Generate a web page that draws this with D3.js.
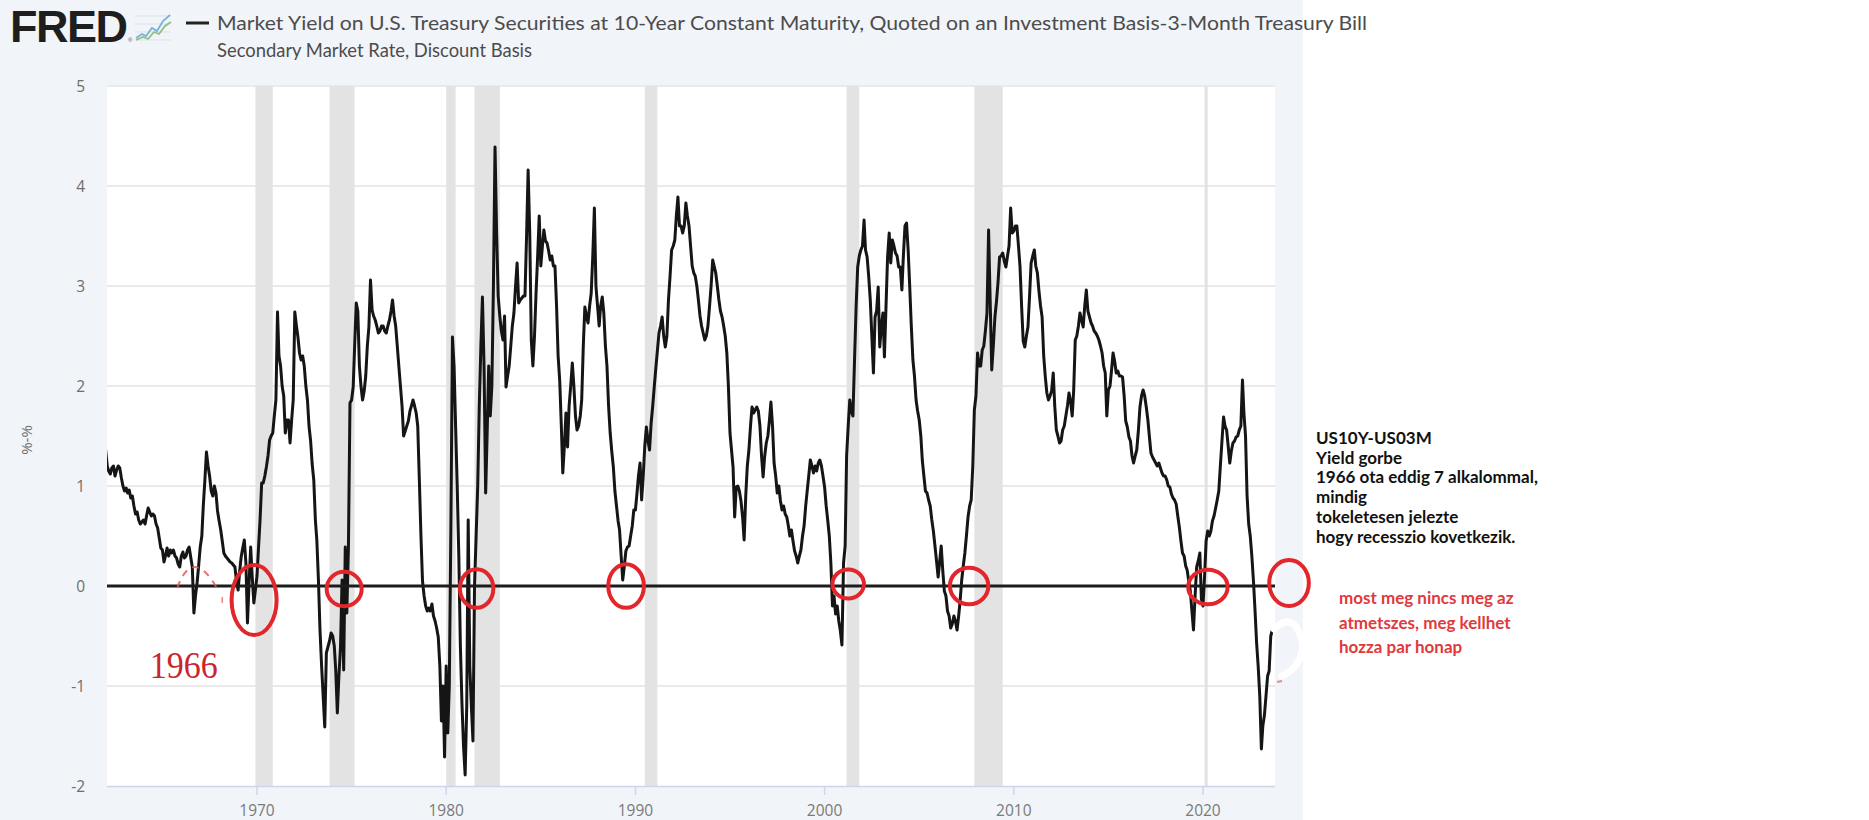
<!DOCTYPE html>
<html>
<head>
<meta charset="utf-8">
<script src="https://cdn.jsdelivr.net/npm/d3@7"></script>
<style>
  html, body { margin: 0; padding: 0; background: #ffffff; }
  svg { display: block; }
</style>
</head>
<body>
<svg id="chart" width="1869" height="820"></svg>
<script>
// ---------------- DATA ----------------
// Monthly spread (10Y - 3M), percentage points. Series starts 1962-01.
const seriesStart = "1962-01";
const spread1960s = [
  1.36, 1.2, 1.15, 1.12, 1.18, 1.2, 1.1, 1.16, 1.2, 1.18, 1.08, 1.0,        // 1962
  0.95, 0.98, 0.93, 0.96, 0.88, 0.9, 0.8, 0.72, 0.74, 0.66, 0.62, 0.64,     // 1963
  0.66, 0.62, 0.7, 0.78, 0.74, 0.7, 0.72, 0.7, 0.62, 0.58, 0.48, 0.38,      // 1964
  0.36, 0.24, 0.3, 0.38, 0.3, 0.36, 0.33, 0.36, 0.3, 0.28, 0.22, 0.19,      // 1965
  0.3, 0.34, 0.28, 0.3, 0.36, 0.39, 0.29, 0.19, -0.27, -0.1, 0.03, 0.2,     // 1966
  0.39, 0.5, 0.8, 1.06, 1.34, 1.2, 1.1, 0.95, 0.9, 1.0, 0.93, 0.75,         // 1967
  0.65, 0.56, 0.45, 0.33, 0.3, 0.28, 0.26, 0.24, 0.23, 0.21, 0.19, 0.05,    // 1968
  -0.04, 0.15, 0.29, 0.38, 0.46, 0.23, -0.37, 0.03, 0.39, 0.09, -0.17, -0.04 // 1969
];
const spread1970s = [
  0.1, 0.4, 0.66, 1.03, 1.03, 1.1, 1.19, 1.3, 1.46, 1.5, 1.53, 1.7,         // 1970
  1.86, 2.74, 2.3, 2.2, 2.0, 1.9, 1.53, 1.66, 1.66, 1.43, 1.66, 1.86,       // 1971
  2.74, 2.6, 2.49, 2.33, 2.26, 2.3, 2.2, 2.0, 1.86, 1.6, 1.45, 1.22,        // 1972
  1.06, 0.66, 0.46, 0.06, -0.44, -0.8, -1.1, -1.41, -0.67, -0.61, -0.55, -0.47, // 1973
  -0.5, -0.6, -0.84, -1.27, -0.9, -0.61, 0.06, -0.84, 0.39, -0.27, 0.39, 1.83,  // 1974
  1.86, 1.99, 2.4, 2.83, 2.75, 2.2, 2.0, 1.86, 1.95, 2.1, 2.4, 2.59,        // 1975
  3.06, 2.76, 2.7, 2.66, 2.6, 2.53, 2.55, 2.6, 2.6, 2.55, 2.53, 2.6,        // 1976
  2.66, 2.75, 2.86, 2.7, 2.6, 2.4, 2.2, 2.0, 1.8, 1.5, 1.55, 1.6,           // 1977
  1.65, 1.75, 1.8, 1.86, 1.8, 1.73, 1.6, 1.06, 0.5, 0.05, -0.1, -0.2,       // 1978
  -0.25, -0.22, -0.25, -0.18, -0.3, -0.35, -0.42, -0.51, -0.8, -1.35, -1.0, -1.71 // 1979
];
const spread1980s = [
  -0.8, -1.47, -1.0, 0.6, 2.49, 2.2, 1.6, 1.0, 0.3, -0.6, -1.18, -1.6,      // 1980
  -1.89, -1.2, 0.66, -0.8, -1.2, -1.55, 0.0, 0.5, 1.0, 1.8, 2.4, 2.89,      // 1981
  2.2, 0.93, 1.5, 2.2, 1.7, 2.0, 3.0, 4.39, 3.53, 2.9, 2.7, 2.55,           // 1982
  2.46, 2.7, 1.99, 2.1, 2.2, 2.4, 2.6, 2.73, 3.0, 3.23, 2.83, 2.86,         // 1983
  2.88, 2.9, 2.9, 3.5, 4.16, 3.53, 2.46, 2.2, 2.5, 2.93, 3.3, 3.7,          // 1984
  3.2, 3.4, 3.56, 3.45, 3.43, 3.35, 3.26, 3.3, 3.2, 3.2, 2.8, 2.3,          // 1985
  2.05, 1.6, 1.13, 1.4, 1.73, 1.39, 1.8, 2.0, 2.23, 2.0, 1.7, 1.56,         // 1986
  1.6, 1.7, 1.86, 2.4, 2.79, 2.7, 2.63, 2.8, 2.93, 3.3, 3.78, 3.0,          // 1987
  2.8, 2.6, 2.8, 2.89, 2.73, 2.4, 2.2, 1.8, 1.53, 1.35, 1.19, 0.95,         // 1988
  0.8, 0.65, 0.56, 0.3, 0.06, 0.2, 0.35, 0.39, 0.4, 0.5, 0.6, 0.76          // 1989
];
const spread1990s = [
  0.76, 0.93, 1.1, 1.23, 0.86, 1.1, 1.4, 1.59, 1.45, 1.36, 1.63, 1.8,       // 1990
  2.0, 2.19, 2.35, 2.53, 2.6, 2.69, 2.5, 2.39, 2.5, 2.86, 3.1, 3.36,        // 1991
  3.4, 3.46, 3.7, 3.89, 3.6, 3.6, 3.53, 3.6, 3.83, 3.7, 3.6, 3.4,           // 1992
  3.2, 3.13, 3.1, 3.0, 2.86, 2.7, 2.6, 2.53, 2.46, 2.5, 2.6, 2.79,          // 1993
  3.0, 3.26, 3.2, 3.13, 3.0, 2.86, 2.75, 2.69, 2.6, 2.5, 2.33, 2.0,         // 1994
  1.53, 1.35, 1.19, 0.69, 0.99, 1.0, 0.95, 0.85, 0.69, 0.46, 0.9, 1.2,      // 1995
  1.36, 1.6, 1.79, 1.73, 1.76, 1.79, 1.75, 1.6, 1.3, 1.09, 1.3, 1.43,       // 1996
  1.5, 1.66, 1.84, 1.6, 1.23, 1.1, 0.93, 1.0, 0.85, 0.76, 0.8, 0.72,        // 1997
  0.69, 0.6, 0.5, 0.56, 0.45, 0.35, 0.3, 0.23, 0.3, 0.36, 0.5, 0.6,         // 1998
  0.8, 0.96, 1.1, 1.26, 1.2, 1.13, 1.2, 1.15, 1.23, 1.26, 1.2, 1.1          // 1999
];
const spread2000s = [
  0.99, 0.8, 0.66, 0.5, 0.23, -0.2, -0.1, -0.28, -0.2, -0.35, -0.45, -0.59, // 2000
  0.23, 0.4, 1.3, 1.6, 1.86, 1.75, 1.7, 2.26, 2.8, 3.19, 3.3, 3.36,         // 2001
  3.4, 3.66, 3.36, 3.29, 3.1, 2.86, 2.5, 2.13, 2.69, 2.75, 2.99, 2.39,      // 2002
  2.6, 2.73, 2.29, 2.8, 3.29, 3.53, 3.23, 3.46, 3.4, 3.33, 3.3, 3.19,       // 2003
  3.19, 2.96, 3.3, 3.6, 3.63, 3.36, 3.0, 2.6, 2.26, 2.1, 1.86, 1.75,        // 2004
  1.66, 1.5, 1.26, 1.1, 0.95, 0.93, 0.86, 0.8, 0.66, 0.55, 0.4, 0.25,       // 2005
  0.09, 0.25, 0.4, 0.15, -0.05, -0.1, -0.25, -0.3, -0.42, -0.38, -0.3, -0.35, // 2006
  -0.44, -0.3, -0.15, 0.06, 0.2, 0.33, 0.5, 0.69, 0.8, 0.86, 1.2, 1.76,     // 2007
  1.9, 2.33, 2.2, 2.2, 2.36, 2.4, 2.55, 2.73, 3.56, 2.86, 2.16, 2.4,        // 2008
  2.69, 2.85, 3.03, 3.29, 3.3, 3.33, 3.25, 3.19, 3.3, 3.4, 3.78, 3.53       // 2009
];
const spread2010s = [
  3.55, 3.6, 3.6, 3.4, 3.19, 2.79, 2.45, 2.39, 2.5, 2.59, 2.9, 3.23,        // 2010
  3.3, 3.36, 3.2, 3.13, 2.95, 2.8, 2.69, 2.3, 2.09, 1.93, 1.86, 1.9,        // 2011
  1.95, 2.13, 1.8, 1.56, 1.5, 1.43, 1.45, 1.56, 1.6, 1.7, 1.8, 1.93,        // 2012
  1.85, 1.7, 1.95, 2.46, 2.5, 2.6, 2.73, 2.66, 2.59, 2.8, 2.96, 2.75,       // 2013
  2.69, 2.63, 2.6, 2.55, 2.53, 2.5, 2.46, 2.4, 2.33, 2.2, 2.13, 1.7,        // 2014
  1.96, 2.0, 2.15, 2.33, 2.25, 2.13, 2.15, 2.1, 2.1, 2.09, 1.9, 1.65,       // 2015
  1.59, 1.49, 1.45, 1.3, 1.23, 1.3, 1.36, 1.55, 1.79, 1.9, 1.96, 1.9,       // 2016
  1.79, 1.66, 1.5, 1.33, 1.29, 1.26, 1.23, 1.2, 1.23, 1.18, 1.13, 1.1,      // 2017
  1.1, 1.06, 1.0, 0.99, 0.92, 0.88, 0.86, 0.82, 0.7, 0.59, 0.45, 0.33,      // 2018
  0.3, 0.2, 0.16, 0.05, -0.05, -0.25, -0.44, -0.1, 0.19, 0.25, 0.33, -0.13  // 2019
];
const spread2020s = [
  -0.2, 0.1, 0.45, 0.55, 0.5, 0.55, 0.65, 0.7, 0.78, 0.86, 0.95, 1.2,       // 2020
  1.45, 1.69, 1.6, 1.56, 1.4, 1.23, 1.35, 1.43, 1.45, 1.49, 1.5, 1.56,      // 2021
  1.6, 2.06, 1.73, 1.5, 0.9, 0.62, 0.5, 0.3, 0.05, -0.24, -0.57, -0.8,      // 2022
  -1.1, -1.63, -1.4, -1.29, -1.1, -0.9, -0.85, -0.5, -0.44                  // 2023 (to Sep)
];

// NBER recessions (shaded)
const recessionStarts = ["1969-12-01", "1973-11-01", "1980-01-01", "1981-07-01", "1990-07-01", "2001-03-01", "2007-12-01", "2020-02-01"];
const recessionEnds   = ["1970-11-01", "1975-03-01", "1980-07-01", "1982-11-01", "1991-03-01", "2001-11-01", "2009-06-01", "2020-04-01"];

// Axis ticks
const yTicks = [-2, -1, 0, 1, 2, 3, 4, 5];
const xTickYears = [1970, 1980, 1990, 2000, 2010, 2020];

// Red hand-drawn inversion markers (centre date / value)
const signalDates  = ["1969-11-06", "1974-08-11", "1981-08-11", "1989-07-05", "2001-04-01", "2007-08-22", "2020-04-05", "2024-07-19"];
const signalValues = [-0.14, -0.03, -0.025, 0.0, 0.02, 0.0, -0.01, 0.03];

// Texts
const titleLines = [
  "Market Yield on U.S. Treasury Securities at 10-Year Constant Maturity, Quoted on an Investment Basis-3-Month Treasury Bill",
  "Secondary Market Rate, Discount Basis"
];
const yAxisTitle = "%-%";
const noteLines = [
  "US10Y-US03M",
  "Yield gorbe",
  "1966 ota eddig 7 alkalommal,",
  "mindig",
  "tokeletesen jelezte",
  "hogy recesszio kovetkezik."
];
const redNoteLines = [
  "most meg nincs meg az",
  "atmetszes, meg kellhet",
  "hozza par honap"
];
const yearLabel = "1966";

// ---------------- CHART ----------------
const svg = d3.select("#chart");
const W = 1869, H = 820;
const plot = { left: 107, right: 1275, top: 86, bottom: 786 };
const parseDay = d3.timeParse("%Y-%m-%d");
const parseMonth = d3.timeParse("%Y-%m");

const x = d3.scaleTime()
  .domain([new Date(1970, 0, 1), new Date(2020, 0, 1)])
  .range([257, 1203]);
x.domain([x.invert(plot.left), x.invert(plot.right)]).range([plot.left, plot.right]);

const y = d3.scaleLinear().domain([-2, 5]).range([plot.bottom, plot.top]);

const t0 = parseMonth(seriesStart);
const values = [spread1960s, spread1970s, spread1980s, spread1990s, spread2000s, spread2010s, spread2020s].flat();
const series = values.map((v, i) => ({ date: d3.timeMonth.offset(t0, i), value: v }));

// backgrounds
svg.append("rect").attr("x", 0).attr("y", 0).attr("width", 1303).attr("height", H).attr("fill", "#f1f4f8");
svg.append("rect").attr("x", plot.left).attr("y", plot.top)
  .attr("width", plot.right - plot.left).attr("height", plot.bottom - plot.top).attr("fill", "#ffffff");

svg.append("defs").append("clipPath").attr("id", "plotclip")
  .append("rect").attr("x", plot.left).attr("y", plot.top - 2)
  .attr("width", plot.right - plot.left).attr("height", plot.bottom - plot.top + 4);

// gridlines
svg.append("g").selectAll("line").data(yTicks.filter(d => d > -2)).join("line")
  .attr("x1", plot.left).attr("x2", plot.right)
  .attr("y1", d => y(d)).attr("y2", d => y(d))
  .attr("stroke", "#eaeaea").attr("stroke-width", 2);

// recession bands
svg.append("g").selectAll("rect").data(recessionStarts.map((s, i) => [parseDay(s), parseDay(recessionEnds[i])])).join("rect")
  .attr("x", d => x(d[0])).attr("width", d => Math.max(3, x(d[1]) - x(d[0])))
  .attr("y", plot.top).attr("height", plot.bottom - plot.top)
  .attr("fill", "#e3e3e3");

// data line
const line = d3.line().x(d => x(d.date)).y(d => y(d.value));
svg.append("path").datum(series)
  .attr("clip-path", "url(#plotclip)")
  .attr("d", line).attr("fill", "none")
  .attr("stroke", "#151515").attr("stroke-width", 3)
  .attr("stroke-linejoin", "round").attr("stroke-linecap", "round");

// zero line
svg.append("line").attr("x1", plot.left).attr("x2", plot.right)
  .attr("y1", y(0)).attr("y2", y(0))
  .attr("stroke", "#1c1c1c").attr("stroke-width", 3);

// x axis line and ticks
svg.append("line").attr("x1", plot.left).attr("x2", plot.right)
  .attr("y1", plot.bottom + 0.5).attr("y2", plot.bottom + 0.5)
  .attr("stroke", "#ccd6eb").attr("stroke-width", 1.5);
const xt = svg.append("g");
xt.selectAll("line").data(xTickYears).join("line")
  .attr("x1", d => x(new Date(d, 0, 1))).attr("x2", d => x(new Date(d, 0, 1)))
  .attr("y1", plot.bottom).attr("y2", plot.bottom + 9)
  .attr("stroke", "#ccd6eb").attr("stroke-width", 1.5);
xt.selectAll("text").data(xTickYears).join("text")
  .attr("x", d => x(new Date(d, 0, 1))).attr("y", 816)
  .attr("text-anchor", "middle")
  .attr("font-family", "'Open Sans', sans-serif").attr("font-size", 15.5)
  .attr("fill", "#7a7a7a").text(d => d);

// y labels
svg.append("g").selectAll("text").data(yTicks).join("text")
  .attr("x", 85).attr("y", d => y(d) + 5.5)
  .attr("text-anchor", "end")
  .attr("font-family", "'Open Sans', sans-serif").attr("font-size", 15.5)
  .attr("fill", "#6e6e6e").text(d => d);

svg.append("text")
  .attr("transform", "translate(32,440) rotate(-90)")
  .attr("text-anchor", "middle")
  .attr("font-family", "'Open Sans', sans-serif").attr("font-size", 15)
  .attr("fill", "#6e6e6e").text(yAxisTitle);

// ---------------- HEADER ----------------
svg.append("text").attr("x", 10).attr("y", 42)
  .attr("font-family", "'Liberation Sans', Arial, sans-serif").attr("font-weight", 700)
  .attr("font-size", 45).attr("letter-spacing", -1.5).attr("fill", "#1e1e1e").text("FRED");
svg.append("text").attr("x", 128).attr("y", 42)
  .attr("font-family", "'Liberation Sans', Arial, sans-serif").attr("font-size", 6)
  .attr("fill", "#555").text("®");
// small graph icon
const icon = svg.append("g").attr("transform", "translate(135,12)");
icon.append("path").attr("d", "M0,28 L36,28 M0,20 L36,20 M0,12 L36,12 M0,4 L36,4")
  .attr("stroke", "#dde3ea").attr("stroke-width", 1);
icon.append("path").attr("d", "M1,26 L7,22 L11,24 L17,16 L22,19 L28,9 L35,3")
  .attr("fill", "none").attr("stroke", "#7ab0dc").attr("stroke-width", 1.8);
icon.append("path").attr("d", "M1,28 L8,25 L13,27 L19,20 L24,22 L30,14 L36,10")
  .attr("fill", "none").attr("stroke", "#8cc083").attr("stroke-width", 1.8);
// legend dash
svg.append("line").attr("x1", 186).attr("x2", 209).attr("y1", 23).attr("y2", 23)
  .attr("stroke", "#222").attr("stroke-width", 3);
svg.append("text").attr("x", 217).attr("y", 30)
  .attr("font-family", "Lato, 'Open Sans', sans-serif").attr("font-size", 19)
  .attr("fill", "#4c4c4c").attr("textLength", 1150).attr("lengthAdjust", "spacingAndGlyphs")
  .text(titleLines[0]);
svg.append("text").attr("x", 217).attr("y", 57)
  .attr("font-family", "Lato, 'Open Sans', sans-serif").attr("font-size", 19)
  .attr("fill", "#4c4c4c").attr("textLength", 315).attr("lengthAdjust", "spacingAndGlyphs")
  .text(titleLines[1]);

// ---------------- ANNOTATIONS ----------------
const red = "#e3262b";
const radX = [22.5, 17.5, 16.7, 17.8, 15.7, 19.2, 19.7, 19.8];
const radY = [35, 17.2, 19.2, 21.8, 14.5, 18.3, 17.3, 23];
svg.append("g").selectAll("ellipse").data(signalDates).join("ellipse")
  .attr("cx", d => x(parseDay(d)))
  .attr("cy", (d, i) => y(signalValues[i]))
  .attr("rx", (d, i) => radX[i]).attr("ry", (d, i) => radY[i])
  .attr("fill", "none").attr("stroke", red).attr("stroke-width", 4);

// faint dashed arc around the 1966 dip
const arcA = [x(parseDay("1965-10-15")), y(-0.02)];
const arcB = [x(parseDay("1967-11-20")), y(-0.02)];
const arcTop = [x(parseDay("1966-08-01")), y(0.4)];
svg.append("path")
  .attr("d", `M${arcA[0]},${arcA[1]} Q${arcTop[0]},${arcTop[1]} ${arcB[0]},${arcB[1]}`)
  .attr("fill", "none").attr("stroke", "#e35a5a").attr("stroke-width", 2)
  .attr("stroke-dasharray", "7,6").attr("opacity", 0.85);
svg.append("line")
  .attr("x1", x(parseDay("1968-03-01"))).attr("x2", x(parseDay("1968-03-01")))
  .attr("y1", y(-0.11)).attr("y2", y(-0.17))
  .attr("stroke", "#e88").attr("stroke-width", 1.5);

// "1966" label
svg.append("text")
  .attr("x", x(parseDay("1964-05-01"))).attr("y", y(-0.92))
  .attr("font-family", "'Liberation Serif', 'Times New Roman', serif")
  .attr("font-size", 37).attr("fill", "#c9272d")
  .attr("textLength", 68).attr("lengthAdjust", "spacingAndGlyphs")
  .text(yearLabel);

// white correction scribble near the end
const ex = x(parseDay(signalDates[7])), ey = y(signalValues[7]);
svg.append("path")
  .attr("d", `M${ex - 15},${ey + 46} Q${ex + 6},${ey + 26} ${ex + 14},${ey + 62} Q${ex + 12},${ey + 84} ${ex - 7},${ey + 93}`)
  .attr("fill", "none").attr("stroke", "#ffffff").attr("stroke-width", 7).attr("stroke-linecap", "round");
svg.append("line").attr("x1", ex - 12).attr("x2", ex - 7).attr("y1", ey + 99).attr("y2", ey + 98)
  .attr("stroke", "#e88").attr("stroke-width", 2);

// right side notes
svg.append("g").selectAll("text").data(noteLines).join("text")
  .attr("x", 1316).attr("y", (d, i) => 444 + i * 19.7)
  .attr("font-family", "Lato, 'DejaVu Sans', sans-serif").attr("font-weight", 700)
  .attr("font-size", 17).attr("fill", "#111111").text(d => d);

svg.append("g").selectAll("text").data(redNoteLines).join("text")
  .attr("x", 1339).attr("y", (d, i) => 604 + i * 24.5)
  .attr("font-family", "Lato, 'DejaVu Sans', sans-serif").attr("font-weight", 700)
  .attr("font-size", 17).attr("fill", "#e0393e").text(d => d);
</script>
</body>
</html>
